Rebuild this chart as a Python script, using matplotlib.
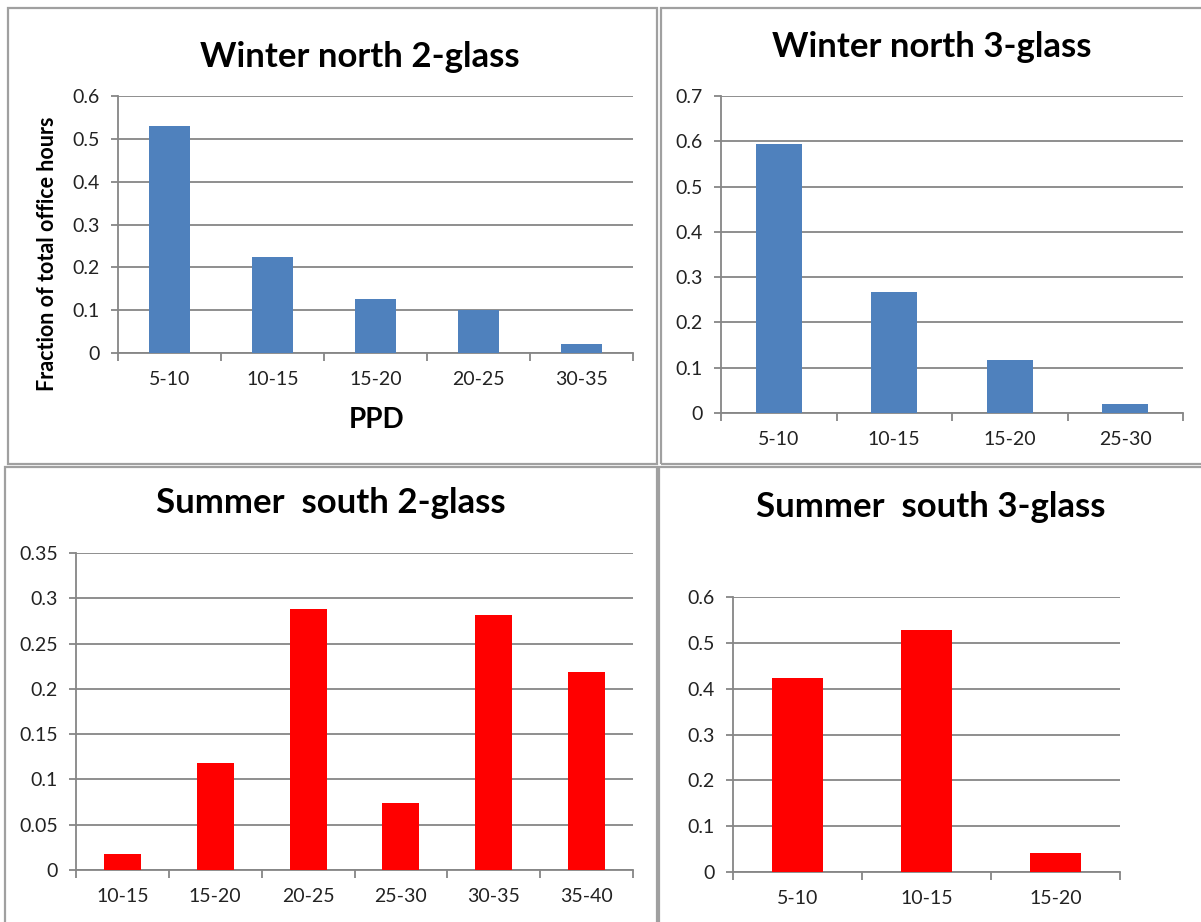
import numpy as np
import matplotlib
matplotlib.use("Agg")
import matplotlib.pyplot as plt
from matplotlib.patches import Rectangle

plt.rcParams["font.family"] = ["Lato", "DejaVu Sans"]

W, H = 1201, 922

# data
wn2_labels = ["5-10", "10-15", "15-20", "20-25", "30-35"]
wn2_values = [0.53, 0.225, 0.127, 0.1, 0.02]
wn3_labels = ["5-10", "10-15", "15-20", "25-30"]
wn3_values = [0.593, 0.267, 0.117, 0.02]
ss2_labels = ["10-15", "15-20", "20-25", "25-30", "30-35", "35-40"]
ss2_values = [0.018, 0.118, 0.288, 0.074, 0.281, 0.219]
ss3_labels = ["5-10", "10-15", "15-20"]
ss3_values = [0.423, 0.528, 0.041]

BLUE = "#4f81bd"
RED = "#ff0000"
GRID = "#868686"
BORDER = "#a0a0a0"
TXT = "#222222"

fig = plt.figure(figsize=(W / 100, H / 100), dpi=100)


def px_axes(left, right, top, bottom):
    return fig.add_axes([left / W, 1 - bottom / H, (right - left) / W, (bottom - top) / H])


def panel(ax, labels, values, color, ymax, ystep, title, title_xy):
    n = len(labels)
    x = np.arange(n)
    ax.bar(x, values, width=0.4, color=color, zorder=3)
    ax.set_xlim(-0.5, n - 0.5)
    ax.set_ylim(0, ymax)
    ticks = np.arange(0, ymax + ystep / 2, ystep)
    ax.set_yticks(ticks)
    ax.set_yticklabels([("%.2f" % t).rstrip("0").rstrip(".") for t in ticks])
    ax.yaxis.grid(True, color=GRID, linewidth=1.3, zorder=0)
    ax.set_axisbelow(True)
    ax.set_xticks(x)
    ax.set_xticklabels(labels)
    ax.set_xticks(np.arange(-0.5, n), minor=True)
    ax.tick_params(axis="x", which="major", length=0, pad=13, labelsize=14, labelcolor=TXT)
    ax.tick_params(axis="x", which="minor", length=6, width=1.3, color=GRID)
    ax.tick_params(axis="y", length=5, width=1.3, color=GRID, pad=8, labelsize=14, labelcolor=TXT)
    for s in ["top", "right"]:
        ax.spines[s].set_visible(False)
    for s in ["left", "bottom"]:
        ax.spines[s].set_color(GRID)
        ax.spines[s].set_linewidth(1.3)
    fig.text(title_xy[0] / W, 1 - title_xy[1] / H, title, ha="center", va="center",
             fontsize=25, fontweight="bold")


# panel borders
for (l, t, r, b) in [(8, 8, 657, 464), (661, 8, 1203, 464), (5, 467, 657, 925), (659, 467, 1203, 925)]:
    fig.add_artist(Rectangle((l / W, 1 - b / H), (r - l) / W, (b - t) / H,
                             transform=fig.transFigure, fill=False,
                             edgecolor=BORDER, linewidth=1.6))

ax1 = px_axes(118, 633, 96, 353)
panel(ax1, wn2_labels, wn2_values, BLUE, 0.6, 0.1, "Winter north 2-glass", (360, 57))
fig.text(377 / W, 1 - 420 / H, "PPD", ha="center", va="center", fontsize=20, fontweight="bold")
fig.text(48 / W, 1 - 254 / H, "Fraction of total office hours", ha="center", va="center",
         rotation=90, fontsize=15.5, fontweight="bold")

ax2 = px_axes(721, 1183, 96, 413)
panel(ax2, wn3_labels, wn3_values, BLUE, 0.7, 0.1, "Winter north 3-glass", (932, 47))

ax3 = px_axes(76, 633, 553, 870)
panel(ax3, ss2_labels, ss2_values, RED, 0.35, 0.05, "Summer  south 2-glass", (331, 503))

ax4 = px_axes(733, 1120, 597, 872)
panel(ax4, ss3_labels, ss3_values, RED, 0.6, 0.1, "Summer  south 3-glass", (931, 507))

fig.savefig("out.png", dpi=100)
plt.close(fig)
